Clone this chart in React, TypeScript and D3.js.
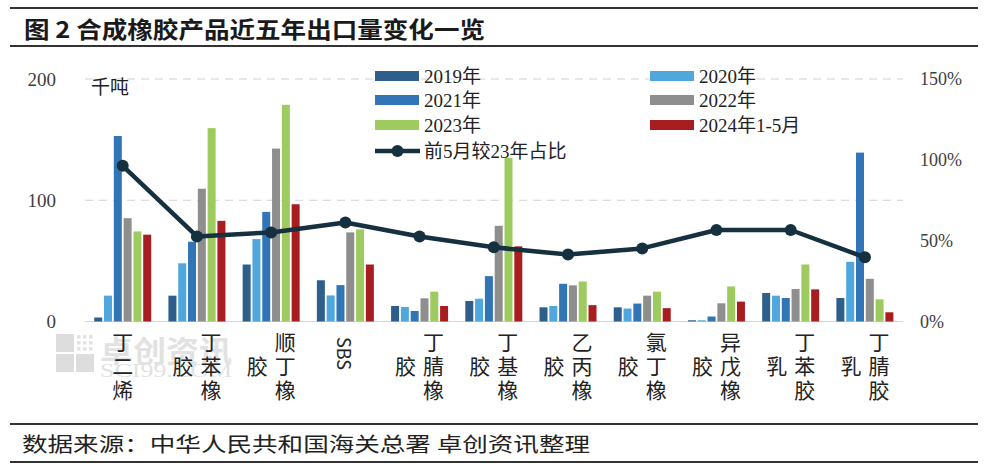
import React from "react";
import * as d3 from "d3";

const categories = ["丁二烯", "丁苯橡胶", "顺丁橡胶", "SBS", "丁腈橡胶", "丁基橡胶", "乙丙橡胶", "氯丁橡胶", "异戊橡胶", "丁苯胶乳", "丁腈胶乳"];
const seriesNames = ["2019年", "2020年", "2021年", "2022年", "2023年", "2024年1-5月"];
const v2019 = [3.3, 21.3, 47, 34, 12.8, 16.9, 11.7, 11.7, 1, 23.5, 19.4];
const v2020 = [21.3, 48, 68, 21.5, 12, 18.8, 12.8, 10.7, 1, 21.3, 49.2];
const v2021 = [153, 65.8, 90.4, 30, 8.7, 37.4, 31.1, 14.8, 4.1, 19.4, 139.3];
const v2022 = [85.2, 109.5, 142.6, 73.5, 19.1, 78.9, 29.8, 21.3, 15, 26.8, 35.2];
const v2023 = [74.3, 159.5, 178.7, 76, 24.6, 135, 33, 24.6, 28.9, 47, 18.3];
const v2024 = [71.6, 83, 96.7, 47, 12.8, 62, 13.5, 11, 16.4, 26.5, 7.6];
const ratio = [0.963, 0.526, 0.551, 0.612, 0.526, 0.459, 0.414, 0.452, 0.566, 0.566, 0.397];
const lineName = "前5月较23年占比";
const leftTicks = [0, 100, 200];
const rightTicks = [0, 0.5, 1, 1.5];
const colors = ["#2e5f8b", "#4fa7dd", "#3175b6", "#8e8e8e", "#9dcb5f", "#a81d1f"];
const lineColor = "#15303f";

const title = "图 2  合成橡胶产品近五年出口量变化一览";
const footer = "数据来源：中华人民共和国海关总署 卓创资讯整理";
const unit = "千吨";

const series = [v2019, v2020, v2021, v2022, v2023, v2024];

const CJK = "'Noto Sans CJK SC', sans-serif";
const NUM = "'Liberation Serif', 'Noto Sans CJK SC', serif";

export default function App() {
  const W = 994, H = 475;
  const x0 = d3.scaleBand<string>().domain(categories).range([85.6, 902]).paddingInner(0.232).paddingOuter(0.116);
  const x1 = d3.scaleBand<number>().domain(d3.range(seriesNames.length)).range([0, x0.bandwidth()]).paddingInner(0.184);
  const yL = d3.scaleLinear().domain([0, 200]).range([321.5, 79]);
  const yR = d3.scaleLinear().domain([0, 1.5]).range([321.5, 79]);
  const cx = (c: string) => (x0(c) as number) + x0.bandwidth() / 2;

  const lineGen = d3.line<number>().x((_, i) => cx(categories[i])).y((d) => yR(d));

  const legendItems = seriesNames.map((n, i) => ({
    name: n,
    color: colors[i],
    x: i % 2 === 0 ? 375 : 650,
    y: [76, 100, 125][Math.floor(i / 2)],
  }));

  const vStyle: React.CSSProperties = { writingMode: "vertical-rl" as any };
  const fs = 21;
  const rowStep = 24;
  const top = 331.5;

  const renderLabel = (c: string) => {
    const cxv = cx(c);
    if (/^[A-Za-z]+$/.test(c)) {
      return (
        <text key={c} x={cxv} y={337} style={vStyle} fontFamily={CJK} fontSize={18} fill="#222">{c}</text>
      );
    }
    const chars = Array.from(c);
    if (chars.length <= 3) {
      return (
        <text key={c} x={cxv} y={top} style={vStyle} letterSpacing={rowStep - fs} fontFamily={CJK} fontSize={fs} fill="#222">{c}</text>
      );
    }
    return (
      <g key={c}>
        <text x={cxv + 14} y={top} style={vStyle} letterSpacing={rowStep - fs} fontFamily={CJK} fontSize={fs} fill="#222">{chars.slice(0, 3).join("")}</text>
        <text x={cxv - 14} y={top + rowStep} style={vStyle} letterSpacing={rowStep - fs} fontFamily={CJK} fontSize={fs} fill="#222">{chars.slice(3).join("")}</text>
      </g>
    );
  };

  return (
    <div style={{ position: "absolute", left: 0, top: 0, width: W, height: H, background: "#fff" }}>
      <svg width={W} height={H} viewBox={`0 0 ${W} ${H}`}>
        <rect x={0} y={0} width={W} height={H} fill="#fff" />
        {/* title */}
        <line x1={10} x2={978} y1={8} y2={8} stroke="#333" strokeWidth={2} />
        <text x={24} y={28} dominantBaseline="central" fontFamily={CJK} fontWeight={700} fontSize={23} fill="#1a1a1a" textLength={461} lengthAdjust="spacingAndGlyphs">{title}</text>
        <line x1={10} x2={978} y1={46} y2={46} stroke="#333" strokeWidth={2} />

        {/* watermark */}
        <g opacity={0.5}>
          <rect x={56} y={334} width={18} height={18} fill="#bdbdbd" />
          <rect x={56} y={354} width={18} height={18} fill="#bdbdbd" />
          <rect x={76} y={354} width={18} height={18} fill="#bdbdbd" />
          {d3.range(3).flatMap((r) => d3.range(3).map((k) => (
            <rect key={`d${r}${k}`} x={77 + k * 6} y={335 + r * 6} width={3.5} height={3.5} fill="#c8c8c8" />
          )))}
          <text x={100} y={349} dominantBaseline="central" fontFamily={CJK} fontWeight={700} fontSize={30} fill="#c6c6c6" textLength={132} lengthAdjust="spacingAndGlyphs">卓创资讯</text>
          <text x={100} y={370} dominantBaseline="central" fontFamily={NUM} fontSize={19} fill="#c6c6c6" textLength={132} lengthAdjust="spacingAndGlyphs">SCI99.COM</text>
        </g>

        {/* gridlines */}
        {leftTicks.filter((t) => t > 0).map((t) => (
          <line key={t} x1={85} x2={903} y1={yL(t)} y2={yL(t)} stroke="#d9cfcf" strokeWidth={1} strokeDasharray="8,6" />
        ))}
        <line x1={85} x2={903} y1={yL(0)} y2={yL(0)} stroke="#d4d4d4" strokeWidth={1.2} />

        {/* axis labels */}
        {leftTicks.map((t) => (
          <text key={t} x={56} y={yL(t)} textAnchor="end" dominantBaseline="central" fontFamily={NUM} fontSize={19} fill="#404040">{t}</text>
        ))}
        {rightTicks.map((t) => (
          <text key={t} x={920} y={yR(t)} dominantBaseline="central" fontFamily={NUM} fontSize={18} fill="#404040">{`${Math.round(t * 100)}%`}</text>
        ))}
        <text x={91} y={85} dominantBaseline="central" fontFamily={CJK} fontSize={19} fill="#222">{unit}</text>

        {/* bars */}
        {categories.map((c, ci) => (
          <g key={c} transform={`translate(${x0(c)},0)`}>
            {series.map((s, si) => (
              <rect key={si} x={x1(si)} y={yL(s[ci])} width={x1.bandwidth()} height={yL(0) - yL(s[ci])} fill={colors[si]} />
            ))}
          </g>
        ))}

        {/* line */}
        <path d={lineGen(ratio) as string} fill="none" stroke={lineColor} strokeWidth={4.5} strokeLinejoin="round" />
        {ratio.map((r, i) => (
          <circle key={i} cx={cx(categories[i])} cy={yR(r)} r={6} fill={lineColor} />
        ))}

        {/* x labels */}
        {categories.map(renderLabel)}

        {/* legend */}
        {legendItems.map((it) => (
          <g key={it.name}>
            <rect x={it.x} y={it.y - 5} width={44} height={10} fill={it.color} />
            <text x={it.x + 49} y={it.y} dominantBaseline="central" fontFamily={NUM} fontSize={19} fill="#222">{it.name}</text>
          </g>
        ))}
        <g>
          <line x1={375} x2={420} y1={151} y2={151} stroke={lineColor} strokeWidth={4.5} />
          <circle cx={397.5} cy={151} r={6} fill={lineColor} />
          <text x={424} y={151} dominantBaseline="central" fontFamily={NUM} fontSize={19} fill="#222">{lineName}</text>
        </g>

        {/* footer */}
        <line x1={10} x2={978} y1={424} y2={424} stroke="#333" strokeWidth={2} />
        <text x={22} y={443} dominantBaseline="central" fontFamily={CJK} fontSize={20} fill="#222" textLength={568} lengthAdjust="spacingAndGlyphs">{footer}</text>
        <line x1={10} x2={978} y1={462} y2={462} stroke="#333" strokeWidth={2} />
      </svg>
    </div>
  );
}
